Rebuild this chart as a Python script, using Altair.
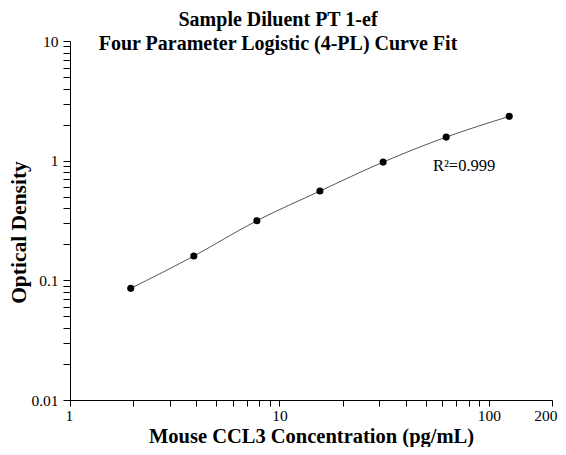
import altair as alt
import pandas as pd

conc = [1.95, 3.9, 7.8, 15.6, 31.25, 62.5, 125]
od = [0.0857, 0.1596, 0.315, 0.557, 0.973, 1.574, 2.345]

x_ticks = [1, 2, 3, 4, 5, 6, 7, 8, 9, 10, 20, 30, 40, 50, 60, 70, 80, 90, 100, 200]
x_labels = {1: "1", 10: "10", 100: "100", 200: "200"}
y_ticks = [0.01, 0.02, 0.03, 0.04, 0.05, 0.06, 0.07, 0.08, 0.09,
           0.1, 0.2, 0.3, 0.4, 0.5, 0.6, 0.7, 0.8, 0.9,
           1, 2, 3, 4, 5, 6, 7, 8, 9, 10]
y_labels = {0.01: "0.01", 0.1: "0.1", 1: "1", 10: "10"}

r2_text = ["R\u00b2=0.999"]
r2_x = [54]
r2_y = [0.814]

df = pd.DataFrame({"conc": conc, "od": od})
ann = pd.DataFrame({"x": r2_x, "y": r2_y, "t": r2_text})


def label_expr(d):
    parts = [f"datum.value == {k} ? '{v}'" for k, v in d.items()]
    return " : ".join(parts) + " : ''"


FONT = "Liberation Serif"

xscale = alt.Scale(type="log", domain=[1, 200], nice=False)
yscale = alt.Scale(type="log", domain=[0.01, 10], nice=False)

xaxis = alt.Axis(
    values=x_ticks, labelExpr=label_expr(x_labels), grid=False,
    title="Mouse CCL3 Concentration (pg/mL)", titleFont=FONT, titleFontSize=20.5,
    titleFontWeight="bold", titleColor="black", titleBaseline="alphabetic",
    titleY=42, labelFont=FONT, labelFontSize=15.5, labelColor="black",
    labelPadding=2, tickSize=6, tickColor="black", domainColor="black",
    labelFlush=True, labelFlushOffset=5, labelOverlap=False,
)
yaxis = alt.Axis(
    values=y_ticks, labelExpr=label_expr(y_labels), grid=False,
    title="Optical Density", titleFont=FONT, titleFontSize=21.5,
    titleFontWeight="bold", titleColor="black", titleAngle=270,
    titleBaseline="middle", titleAlign="center", titleX=-51, titleY=191,
    labelFont=FONT, labelFontSize=15.5, labelColor="black", labelPadding=5,
    tickSize=7, tickColor="black", domainColor="black",
    labelFlush=False, labelOverlap=False,
)

base = alt.Chart(df)
line = base.mark_line(color="#555555", strokeWidth=1, interpolate="monotone").encode(
    x=alt.X("conc:Q", scale=xscale, axis=xaxis),
    y=alt.Y("od:Q", scale=yscale, axis=yaxis),
)
pts = base.mark_circle(color="black", size=50, opacity=1).encode(
    x=alt.X("conc:Q", scale=xscale),
    y=alt.Y("od:Q", scale=yscale),
)
txt = alt.Chart(ann).mark_text(
    font=FONT, fontSize=16.5, align="left", baseline="alphabetic", color="black"
).encode(
    x=alt.X("x:Q", scale=xscale),
    y=alt.Y("y:Q", scale=yscale),
    text="t:N",
)

chart = alt.layer(line, pts, txt).properties(
    width=482, height=359,
    title=alt.TitleParams(
        text=["Sample Diluent PT 1-ef", "Four Parameter Logistic (4-PL) Curve Fit"],
        font=FONT, fontSize=20, fontWeight="bold", color="black",
        anchor="middle", dx=-33, baseline="alphabetic", offset=-36, lineHeight=24,
    ),
    autosize=alt.AutoSizeParams(type="none"),
    padding={"left": 62, "top": 33, "right": 6, "bottom": 47},
).configure_view(stroke=None)

chart.save("out.html", embed_options={"renderer": "svg", "actions": False})
